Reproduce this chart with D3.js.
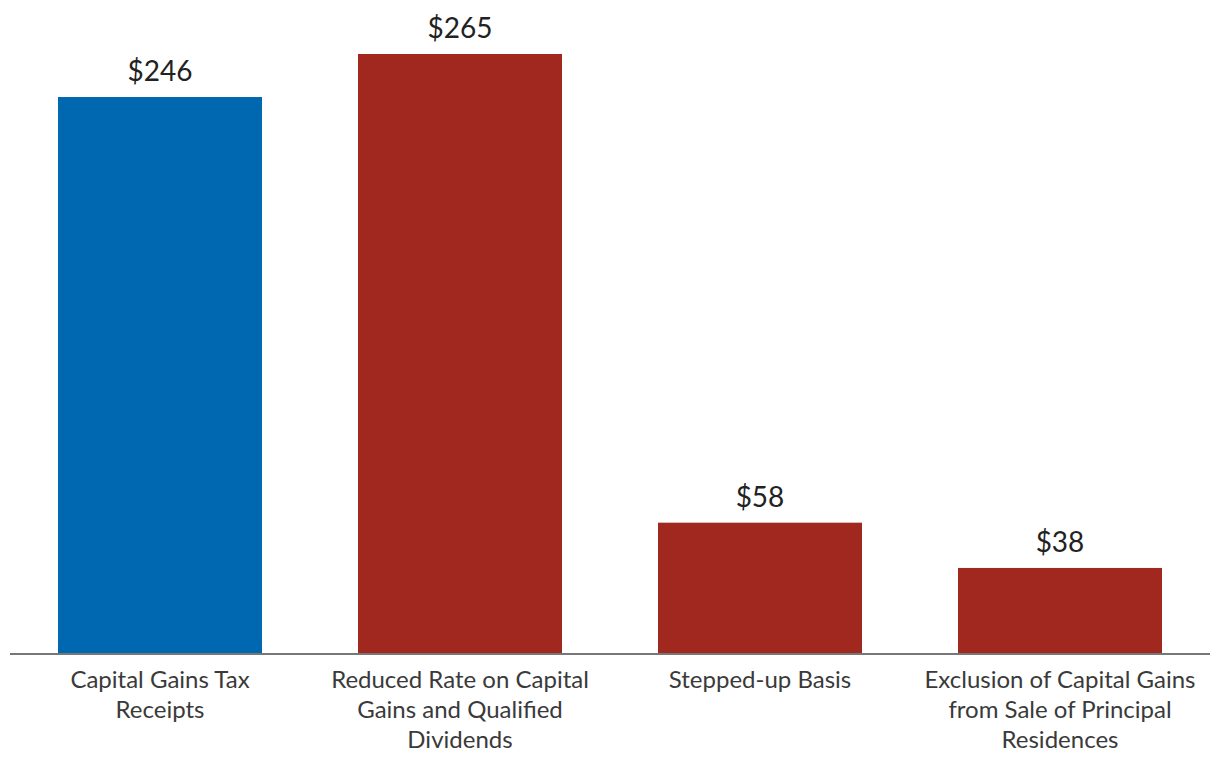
<!DOCTYPE html>
<html>
<head>
<meta charset="utf-8">
<script src="https://cdn.jsdelivr.net/npm/d3@7"></script>
<style>
	body { margin: 0; background: #fff; }
	svg { display: block; font-family: Lato, "Open Sans", sans-serif; }
</style>
</head>
<body>
<svg id="chart" width="1220" height="770"></svg>
<script>
// chart data
var categories = [
	["Capital Gains Tax", "Receipts"],
	["Reduced Rate on Capital", "Gains and Qualified", "Dividends"],
	["Stepped-up Basis"],
	["Exclusion of Capital Gains", "from Sale of Principal", "Residences"]
];
var values = [246, 265, 58, 38];
var barColors = ["#0068b1", "#a0281f", "#a0281f", "#a0281f"];

var svg = d3.select("#chart");
var baseY = 654;

var x = d3.scaleBand()
	.domain(d3.range(values.length))
	.range([10, 1210])
	.paddingInner(0.32)
	.paddingOuter(0.16);

var y = d3.scaleLinear()
	.domain([0, 265])
	.range([baseY, 54]);

// bars
svg.append("g").selectAll("rect")
	.data(values)
	.enter().append("rect")
	.attr("x", function(d, i) { return x(i); })
	.attr("y", function(d) { return y(d); })
	.attr("width", x.bandwidth())
	.attr("height", function(d) { return baseY - y(d); })
	.style("fill", function(d, i) { return barColors[i]; });

// value labels
svg.append("g").selectAll("text")
	.data(values)
	.enter().append("text")
	.attr("x", function(d, i) { return x(i) + x.bandwidth() / 2; })
	.attr("y", function(d) { return y(d) - 16; })
	.attr("text-anchor", "middle")
	.style("font-size", "28px")
	.style("fill", "#222")
	.text(function(d) { return "$" + d; });

// x axis with wrapped labels
var axis = svg.append("g")
	.attr("transform", "translate(0," + baseY + ")")
	.call(d3.axisBottom(x).tickSize(0).tickFormat(""));
axis.select(".domain").attr("stroke", "#777").attr("stroke-width", 2)
	.attr("d", "M10,0H1210");

svg.append("g").selectAll("text")
	.data(categories)
	.enter().append("text")
	.attr("x", function(d, i) { return x(i) + x.bandwidth() / 2; })
	.attr("y", baseY + 34)
	.attr("text-anchor", "middle")
	.style("font-size", "24px")
	.style("fill", "#3a3a3a")
	.each(function(lines) {
		var t = d3.select(this), cx = t.attr("x");
		lines.forEach(function(line, k) {
			t.append("tspan").attr("x", cx).attr("dy", k ? 30 : 0).text(line);
		});
	});
</script>
</body>
</html>
